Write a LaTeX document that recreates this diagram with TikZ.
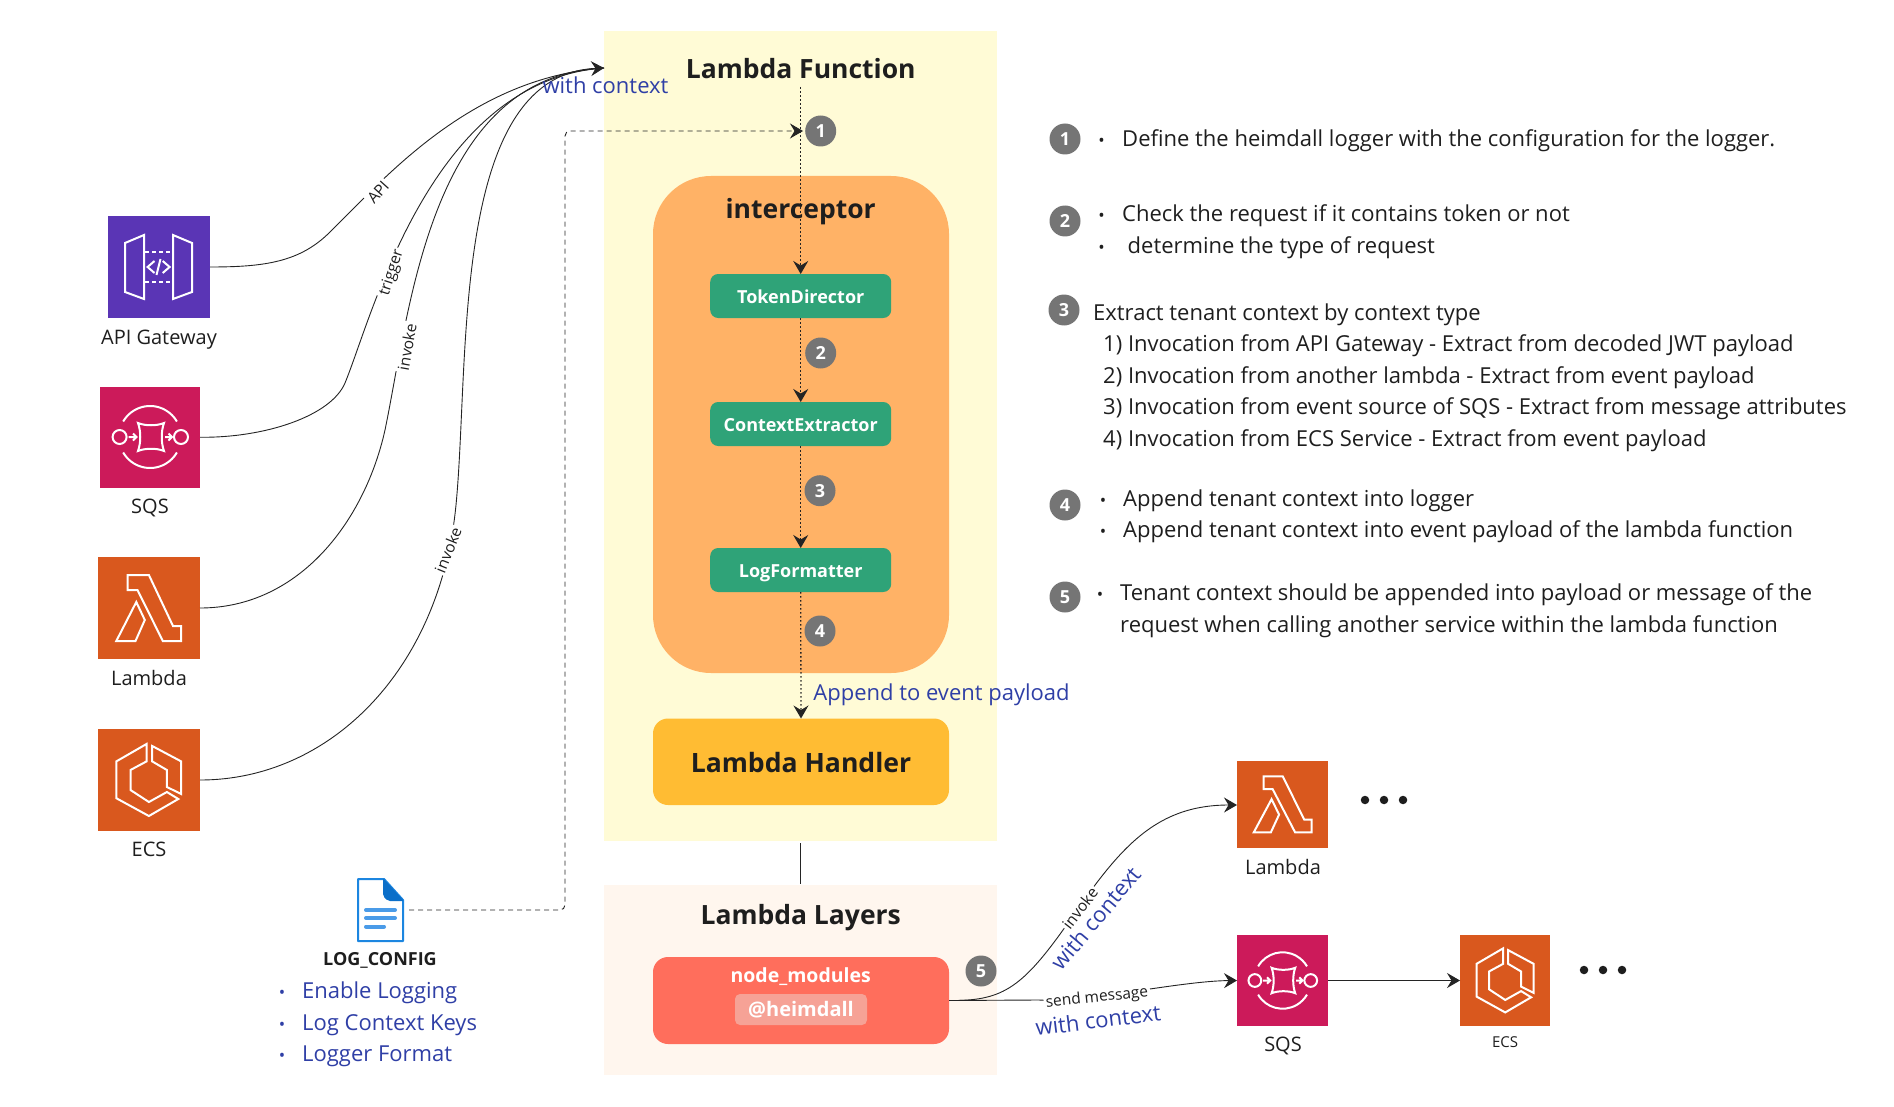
\documentclass[tikz,border=0pt]{standalone}
\usepackage{fontspec}
\setmainfont{Open Sans}
\usetikzlibrary{arrows.meta,calc}
\definecolor{txt}{HTML}{1E1E1E}
\definecolor{lnk}{HTML}{242424}
\definecolor{blu}{HTML}{2F3FA6}
\definecolor{ylw}{HTML}{FFFBD6}
\definecolor{org}{HTML}{FFB266}
\definecolor{grn}{HTML}{2FA378}
\definecolor{hnd}{HTML}{FFBC33}
\definecolor{lay}{HTML}{FFF6EE}
\definecolor{nmd}{HTML}{FF6E5C}
\definecolor{hei}{HTML}{F6A296}
\definecolor{bdg}{HTML}{757575}
\definecolor{apic}{HTML}{5A35B5}
\definecolor{sqsc}{HTML}{CC1A5A}
\definecolor{lamc}{HTML}{D9581E}
\definecolor{doca}{HTML}{1C86E0}
\definecolor{docb}{HTML}{0B6FC9}
\definecolor{docc}{HTML}{4A9BE8}
\newcommand{\fsz}[1]{\fontsize{#1}{#1}\selectfont}
\newcommand{\lowered}[2]{\raisebox{-#1pt}[0pt][0pt]{#2}}
\tikzset{
  x=1pt,y=-1pt,
  panel/.style={inner sep=0,outer sep=0,anchor=north west},
  gbox/.style={panel,fill=grn,rounded corners=8pt,minimum width=181pt,minimum height=44pt,anchor=center,
     text=white,font=\fsz{18}\bfseries},
  badge/.style={circle,fill=bdg,inner sep=0,minimum size=31pt,text=white,font=\fsz{18}\bfseries},
  body/.style={inner sep=0,anchor=mid west,text=txt,font=\fsz{22},yshift=-5.5pt},
  bul/.style={inner sep=0,anchor=center,text=txt,font=\fsz{17},yshift=-4pt},
  blue/.style={inner sep=0,text=blu,font=\fsz{22}},
  ttl/.style={inner sep=0,text=txt,font=\fsz{26.5}\bfseries},
  iconlab/.style={inner sep=0,text=txt,font=\fsz{20}},
  edgelab/.style={inner sep=2pt,fill=white,text=txt,font=\fsz{15.5}},
  conn/.style={draw=lnk,line width=0.9pt},
  tip/.style={-{Stealth[length=13pt,width=15pt,inset=4.5pt]}},
  dots/.style={conn,line width=1.3pt,dash pattern=on 1.6pt off 2.4pt},
  ico/.style={draw=white,line width=2pt,line join=miter},
  apiglyph/.pic={
    \draw[ico] (17,27)--(36,19)--(36,83)--(17,76)--cycle;
    \draw[ico] (65,19)--(84,27)--(84,76)--(65,83)--cycle;
    \draw[ico,dash pattern=on 4pt off 3pt] (37,36)--(64,36);
    \draw[ico,dash pattern=on 4pt off 3pt] (37,66)--(64,66);
    \draw[ico] (46.5,45)--(39.6,51)--(46.5,57);
    \draw[ico] (54.7,45)--(61.6,51)--(54.7,57);
    \draw[ico] (52.5,43)--(48.5,59);
  },
  sqsglyph/.pic={
    \draw[ico] (23.2,34.5) arc[start angle=-150,end angle=-30,radius=31];
    \draw[ico] (23.2,65.5) arc[start angle=150,end angle=30,radius=31];
    \draw[ico] (19.6,50) circle[radius=7];
    \draw[ico] (81,50) circle[radius=7];
    \draw[ico] (38,36) .. controls (45,39) and (57,39) .. (64,36)
       .. controls (61,44) and (61,56) .. (64,64)
       .. controls (57,61) and (45,61) .. (38,64)
       .. controls (41,56) and (41,44) .. (38,36) -- cycle;
    \draw[ico] (28.5,50)--(36.5,50) (33,46.5)--(36.5,50)--(33,53.5);
    \draw[ico] (65,50)--(72,50) (68.5,46.5)--(72,50)--(68.5,53.5);
  },
  lamglyph/.pic={
    \draw[ico] (30,18)--(51.4,18)--(75.5,69)--(83.7,69)--(83.7,84)--(65.3,84)--(40,33)--(30,33)--cycle;
    \draw[ico] (38.8,45)--(47.3,63)--(38,84)--(18.8,84)--cycle;
  },
  ecsglyph/.pic={
    \draw[ico] (49,15)--(18.8,32.4)--(18.8,69.2)--(51.4,87)--(80.8,70)--(69.4,63)--(51.4,73)--(33,61)--(33,41)--(49,32.4)--cycle;
    \draw[ico] (54.7,17)--(83.7,32.4)--(83.7,65)--(69.4,58)--(69.4,41)--(54.7,32.4)--cycle;
  },
}
\begin{document}
\begin{tikzpicture}
\useasboundingbox (0,0) rectangle (1894,1107);

% --- panels ---
\node[panel,fill=ylw,minimum width=393pt,minimum height=810pt] (fnpanel) at (604,31) {};
\node[panel,fill=lay,minimum width=393pt,minimum height=190pt] (laypanel) at (604,885) {};
\node[panel,fill=org,rounded corners=58pt,minimum width=296pt,minimum height=497pt] (icpt) at (653,176) {};
\node[ttl] (fntitle) at (800.7,69) {Lambda Function};
\node[ttl] (ictitle) at (800.7,212) {interceptor};
\node[gbox] (td) at (800.7,296) {\lowered{7.5}{TokenDirector}};
\node[gbox] (ce) at (800.7,424) {\lowered{7.5}{ContextExtractor}};
\node[gbox] (lf) at (800.7,570) {\lowered{7.5}{LogFormatter}};
\node[panel,fill=hnd,rounded corners=15pt,minimum width=296pt,minimum height=86.5pt] (lh) at (653,718.5) {};
\node[ttl,font=\fsz{26.6}\bfseries,yshift=-1pt] at (lh.center) (lhtext) {Lambda Handler};
\node[ttl] (laytitle) at (800.7,917.5) {Lambda Layers};
\node[panel,fill=nmd,rounded corners=15pt,minimum width=296pt,minimum height=87pt] (nm) at (653,957) {};
\node[inner sep=0,text=white,font=\fsz{19.5}\bfseries] (nmtext) at (800.7,977) {node\_modules};
\node[panel,fill=hei,rounded corners=5pt,minimum width=132pt,minimum height=31pt] (hbox) at (735,994) {};
\node[inner sep=0,text=white,font=\fsz{20}\bfseries] (htext) at (hbox.center) {@heimdall};

% --- left icons ---
\node[panel,fill=apic,minimum width=102pt,minimum height=102pt] (api) at (108,216) {};
\pic at (108,216) {apiglyph};
\node[iconlab] (apil) at (159,340) {API Gateway};
\node[panel,fill=sqsc,minimum width=100pt,minimum height=100.5pt] (sqs) at (100,387) {};
\pic at (100,387) {sqsglyph};
\node[iconlab] (sqsl) at (150,508) {SQS};
\node[panel,fill=lamc,minimum width=102.5pt,minimum height=102pt] (lam) at (97.5,557) {};
\pic at (97.5,557) {lamglyph};
\node[iconlab] (laml) at (149,678) {Lambda};
\node[panel,fill=lamc,minimum width=102.5pt,minimum height=102pt] (ecs) at (97.5,729) {};
\pic at (97.5,729) {ecsglyph};
\node[iconlab] (ecsl) at (149,849) {ECS};

% --- config document ---
\node[panel,minimum width=45pt,minimum height=62pt] (doc) at (358,879) {};
\begin{scope}[shift={(358,879)}]
  \draw[doca,fill=white,line width=2pt,line join=round] (0,0)--(26,0)--(45,21)--(45,62)--(0,62)--cycle;
  \fill[docb,rounded corners=2pt] (25,-1)--(46,22)--(30,22)--(25,17)--cycle;
  \draw[docc,line width=4pt,line cap=round] (8,31)--(37,31) (8,39)--(37,39) (8,47.5)--(26,47.5);
\end{scope}
\node[inner sep=0,text=txt,font=\fsz{18}\bfseries] (doclab) at (380,960) {LOG\_CONFIG};
\foreach \n/\y/\t in {a/990/Enable Logging,b/1022/Log Context Keys,c/1053/Logger Format}{
  \node[bul,text=blu] (cb\n) at (282,\y) {•};
  \node[body,text=blu] (ct\n) at (302,\y) {\t};
}

% --- right icons ---
\node[panel,fill=lamc,minimum width=91pt,minimum height=87pt] (lam2) at (1237,761) {};
\pic[xscale=.89,yscale=.85] at (1237,761) {lamglyph};
\node[iconlab] (lam2l) at (1283,867) {Lambda};
\node[panel,fill=sqsc,minimum width=91pt,minimum height=91pt] (sqs2) at (1237,935) {};
\pic[xscale=.91,yscale=.91] at (1237,935) {sqsglyph};
\node[iconlab] (sqs2l) at (1283,1046) {SQS};
\node[panel,fill=lamc,minimum width=90pt,minimum height=91pt] (ecs2) at (1460,935) {};
\pic[xscale=.88,yscale=.89] at (1460,935) {ecsglyph};
\node[iconlab,font=\fsz{15}] (ecs2l) at (1505,1042) {ECS};
\foreach \n/\x/\y in {a/1365/800,b/1384/800,c/1403/800,d/1584/970,e/1603/970,f/1622/970}{
  \node[circle,fill=txt,inner sep=0,minimum size=8.5pt] (dot\n) at (\x,\y) {};
}

% --- left connectors ---
\coordinate (entry) at (604,68);
\draw[conn] (api.east) .. controls (265,267) and (300,262) .. (330,232) .. controls (385,178) and (470,78) .. (entry);
\draw[conn] (sqs.east) .. controls (265,438) and (331,416) .. (345,383) .. controls (372,318) and (430,80) .. (entry);
\draw[conn] (lam.east) .. controls (300,608) and (365,520) .. (385,430) .. controls (410,310) and (430,75) .. (entry);
\draw[conn,tip] (ecs.east) .. controls (330,780) and (440,670) .. (456,505) .. controls (470,360) and (450,75) .. (entry);
\node[edgelab,rotate=48] (l1) at (378,192) {API};
\node[edgelab,rotate=72] (l2) at (392,273) {trigger};
\node[edgelab,rotate=80] (l3) at (407,347) {invoke};
\node[edgelab,rotate=68] (l4) at (448,550) {invoke};
\node[blue] (wc1) at (605.5,85) {with context};

% --- flow connectors ---
\coordinate (flowstart) at (800.7,87);
\coordinate (mark) at (803,131);
\draw[conn,dash pattern=on 5pt off 4pt,rounded corners=5pt,tip] (409,910) -| (565,131) -- (mark);
\draw[dots,tip] (flowstart) -- (td.north);
\draw[dots,tip] (td.south) -- (ce.north);
\draw[dots,tip] (ce.south) -- (lf.north);
\draw[dots,tip] (lf.south) -- (lh.north);
\draw[conn,line width=1.2pt] ($(fnpanel.south)+(0,2)$) -- ($(laypanel.north)+(0,-1.5)$);
\node[blue] (append) at (941.5,695) {Append to event payload};

\node[badge] (b1) at (820.7,131) {1};
\node[badge] (b2) at (820.7,353) {2};
\node[badge] (b3) at (820,490.7) {3};
\node[badge] (b4) at (820,631) {4};
\node[badge] (b5) at (981,971) {5};

% --- lower right connectors ---
\draw[conn,tip] (nm.east) .. controls (1000,1001) and (1020,990) .. (1063,930) .. controls (1115,855) and (1150,805) .. (lam2.west |- 0,805);
\draw[conn,tip] (nm.east) -- (1038,1000) .. controls (1090,1002) and (1180,981) .. (sqs2.west);
\draw[conn,tip] (sqs2.east) -- (ecs2.west);
\node[edgelab,rotate=52] (l5) at (1080,908) {invoke};
\node[edgelab,rotate=6] (l6) at (1097,998) {send message};
\node[blue,rotate=50] (wc2) at (1096,918) {with context};
\node[blue,rotate=7] (wc3) at (1098,1020) {with context};

% --- notes ---
\node[badge] (n1) at (1065,139) {1};
\node[bul] (n1a) at (1101.6,138) {•};
\node[body] (n1t) at (1122,138) {Define the heimdall logger with the configuration for the logger.};
\node[badge] (n2) at (1065,221) {2};
\node[bul] (n2a) at (1101.6,213) {•};
\node[body] (n2t) at (1122,213) {Check the request if it contains token or not};
\node[bul] (n2b) at (1101.6,245) {•};
\node[body] (n2u) at (1127.5,245) {determine the type of request};
\node[badge] (n3) at (1064,310) {3};
\node[body] (n3t) at (1093,312.5) {Extract tenant context by context type};
\node[body] (n3a) at (1103,343) {1) Invocation from API Gateway - Extract from decoded JWT payload};
\node[body] (n3b) at (1103,375) {2) Invocation from another lambda - Extract from event payload};
\node[body] (n3c) at (1103,406) {3) Invocation from event source of SQS - Extract from message attributes};
\node[body] (n3d) at (1103,438) {4) Invocation from ECS Service - Extract from event payload};
\node[badge] (n4) at (1065,505) {4};
\node[bul] (n4a) at (1103,498) {•};
\node[body] (n4t) at (1123,498) {Append tenant context into logger};
\node[bul] (n4b) at (1103,529.5) {•};
\node[body] (n4u) at (1123,529.5) {Append tenant context into event payload of the lambda function};
\node[badge] (n5) at (1065,597) {5};
\node[bul] (n5a) at (1100,592) {•};
\node[body] (n5t) at (1120,592) {Tenant context should be appended into payload or message of the};
\node[body] (n5u) at (1120,624) {request when calling another service within the lambda function};
\end{tikzpicture}
\end{document}
